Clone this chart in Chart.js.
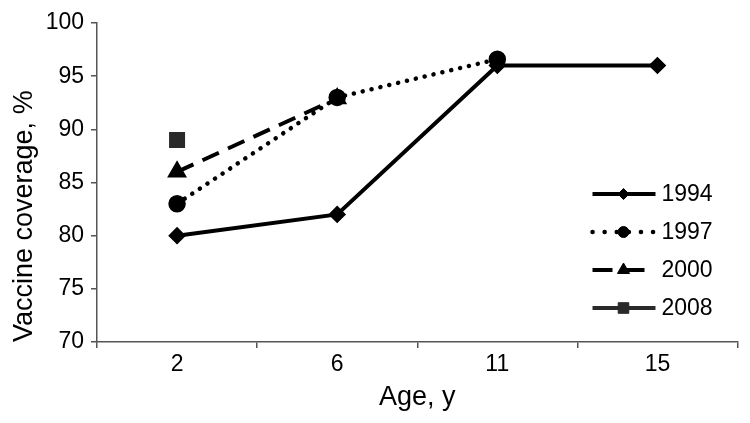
<!DOCTYPE html>
<html>
<head>
<meta charset="utf-8">
<script src="https://cdn.jsdelivr.net/npm/chart.js@4/dist/chart.umd.min.js"></script>
<style>
html,body{margin:0;padding:0;background:#fff;}
#wrap{width:750px;height:423px;position:relative;}
</style>
</head>
<body>
<div id="wrap"><canvas id="c" width="750" height="423"></canvas></div>
<script>
const ages = ['2', '6', '11', '15'];
const cov1994 = [80, 82, 96, 96];
const cov1997 = [83, 93, 96.6, null];
const cov2000 = [86, 92.9, null, null];
const cov2008 = [89, null, null, null];
const yTicks = [70, 75, 80, 85, 90, 95, 100];

const FONT = "'Liberation Sans', Arial, Helvetica, sans-serif";

const legendPlugin = {
  id: 'insideLegend',
  afterDraw(chart) {
    const ctx = chart.ctx;
    const ca = chart.chartArea;
    const x0 = ca.right - 145, x1 = x0 + 63, xm = x0 + 31;
    let y = ca.top + 171;
    chart.data.datasets.forEach(ds => {
      ctx.save();
      ctx.strokeStyle = ds.borderColor;
      ctx.lineWidth = ds.borderWidth;
      ctx.lineCap = ds.borderCapStyle || 'butt';
      ctx.setLineDash(ds.legendDash || ds.borderDash || []);
      ctx.beginPath();
      ctx.moveTo(x0, y); ctx.lineTo(x1, y);
      ctx.stroke();
      ctx.setLineDash([]);
      ctx.fillStyle = ds.pointBackgroundColor;
      ctx.strokeStyle = ds.pointBorderColor;
      ctx.lineWidth = 1;
      Chart.helpers.drawPoint(ctx, {pointStyle: ds.pointStyle, radius: ds.legendPointRadius, borderWidth: 1}, xm, y);
      ctx.fillStyle = '#000';
      ctx.font = '23px ' + FONT;
      ctx.textAlign = 'left';
      ctx.textBaseline = 'middle';
      ctx.fillText(ds.label, x1 + 6, y + 1);
      ctx.restore();
      y += 38;
    });
  }
};

new Chart(document.getElementById('c'), {
  type: 'line',
  data: {
    labels: ages,
    datasets: [
      { label: '1994', data: cov1994, borderColor: '#000', borderWidth: 4,
        pointStyle: 'rectRot', pointRadius: 6, legendPointRadius: 5.5,
        pointBackgroundColor: '#000', pointBorderColor: '#000' },
      { label: '1997', data: cov1997, borderColor: '#000', borderWidth: 4.5,
        borderDash: [0.1, 9], borderCapStyle: 'round', legendDash: [0.1, 12],
        pointStyle: 'circle', pointRadius: 6.5, legendPointRadius: 5.5,
        pointBackgroundColor: '#000', pointBorderColor: '#000' },
      { label: '2000', data: cov2000, borderColor: '#000', borderWidth: 4,
        borderDash: [18, 10], legendDash: [20, 12],
        pointStyle: 'triangle', pointRadius: 7.5, legendPointRadius: 7,
        pointBackgroundColor: '#000', pointBorderColor: '#000' },
      { label: '2008', data: cov2008, borderColor: '#2a2a2a', borderWidth: 4,
        pointStyle: 'rect', pointRadius: 8.5, legendPointRadius: 7.5,
        pointBackgroundColor: '#2a2a2a', pointBorderColor: '#2a2a2a' }
    ]
  },
  options: {
    responsive: false,
    animation: false,
    spanGaps: false,
    layout: { padding: { top: 23, right: 12, bottom: 0, left: 0 } },
    plugins: { legend: { display: false }, tooltip: { enabled: false } },
    elements: { line: { tension: 0 } },
    scales: {
      x: {
        type: 'category',
        offset: true,
        grid: { offset: true, drawOnChartArea: false, drawTicks: true, tickLength: 6, color: '#555', lineWidth: 1.5 },
        border: { color: '#555', width: 1.5 },
        ticks: { color: '#000', font: { family: FONT, size: 23 }, padding: 3 },
        title: { display: true, text: 'Age, y', color: '#000', font: { family: FONT, size: 27 }, padding: { top: 0, bottom: 9 } },
        afterFit(s) { s.height = 81; }
      },
      y: {
        min: 70, max: 100,
        afterBuildTicks(s) { s.ticks = yTicks.map(v => ({ value: v })); },
        grid: { drawOnChartArea: false, drawTicks: true, tickLength: 6, color: '#555', lineWidth: 1.5 },
        border: { color: '#555', width: 1.5 },
        ticks: { color: '#000', font: { family: FONT, size: 23 }, padding: 7 },
        title: { display: true, text: 'Vaccine coverage, %', align: 'start', color: '#000', font: { family: FONT, size: 27 }, padding: { top: 8, bottom: 0 } },
        afterFit(s) { s.width = 97; }
      }
    }
  },
  plugins: [legendPlugin]
});
</script>
</body>
</html>
